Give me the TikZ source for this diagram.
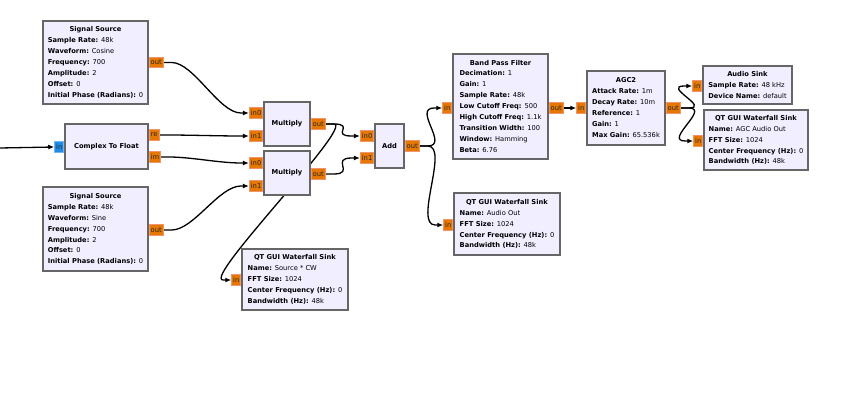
\documentclass[tikz,border=0pt]{standalone}
\usepackage{fontspec}
\setmainfont{DejaVu Sans}
\usetikzlibrary{arrows.meta}
\pgfdeclarelayer{bg}
\pgfsetlayers{bg,main}
\definecolor{blkfill}{RGB}{240,238,255}
\definecolor{blkline}{RGB}{102,102,102}
\definecolor{portfill}{RGB}{230,120,0}
\definecolor{portline}{RGB}{240,150,110}
\definecolor{cplxfill}{RGB}{30,140,230}
\definecolor{cplxline}{RGB}{120,180,240}
\newcommand{\ttl}[1]{\multicolumn{1}{@{}c@{}}{\textbf{#1}}}
\newcommand{\prm}[2]{\textbf{#1:} #2}
\tikzset{
  blk/.style={draw=blkline, fill=blkfill, line width=1.5pt, inner sep=0pt, font=\fontsize{6.7}{10.9}\selectfont},
  port/.style={draw=portline, fill=portfill, line width=0.8pt, minimum height=10.5pt, inner xsep=1.5pt, inner ysep=0pt, font=\fontsize{6.8}{7}\selectfont, text=black!85},
  cport/.style={port, draw=cplxline, fill=cplxfill},
  portin/.style={port, anchor=east},
  portout/.style={port, anchor=west},
  wire/.style={line width=1.3pt, -{Latex[length=6pt,width=5pt]},
    to path={-- ++(8,0) .. controls +(22,0) and ([xshift=-30pt]\tikztotarget) .. ([xshift=-8pt]\tikztotarget) -- (\tikztotarget) \tikztonodes}}
}
\begin{document}
\begin{tikzpicture}[x=1pt, y=-1pt]
\useasboundingbox (0,0) rectangle (856,417);

\node[blk, minimum width=105pt, minimum height=83pt] (ss1) at (95.5,62.5) {\begin{tabular}{@{}l@{}}\ttl{Signal Source}\\ \prm{Sample Rate}{48k}\\ \prm{Waveform}{Cosine}\\ \prm{Frequency}{700}\\ \prm{Amplitude}{2}\\ \prm{Offset}{0}\\ \prm{Initial Phase (Radians)}{0}\end{tabular}};
\node[blk, minimum width=83pt, minimum height=45pt] (c2f) at (106.5,146.5) {\textbf{Complex To Float}};
\node[blk, minimum width=105pt, minimum height=84pt] (ss2) at (95.5,229) {\begin{tabular}{@{}l@{}}\ttl{Signal Source}\\ \prm{Sample Rate}{48k}\\ \prm{Waveform}{Sine}\\ \prm{Frequency}{700}\\ \prm{Amplitude}{2}\\ \prm{Offset}{0}\\ \prm{Initial Phase (Radians)}{0}\end{tabular}};
\node[blk, minimum width=46pt, minimum height=44pt] (mul1) at (287,124) {\textbf{Multiply}};
\node[blk, minimum width=46pt, minimum height=44pt] (mul2) at (287,173) {\textbf{Multiply}};
\node[blk, minimum width=29pt, minimum height=44pt] (add) at (389.5,146) {\textbf{Add}};
\node[blk, minimum width=106pt, minimum height=61pt] (wf1) at (295,279.5) {\begin{tabular}{@{}l@{}}\ttl{QT GUI Waterfall Sink}\\ \prm{Name}{Source * CW}\\ \prm{FFT Size}{1024}\\ \prm{Center Frequency (Hz)}{0}\\ \prm{Bandwidth (Hz)}{48k}\end{tabular}};
\node[blk, minimum width=95pt, minimum height=105pt] (bpf) at (500.5,106.5) {\begin{tabular}{@{}l@{}}\ttl{Band Pass Filter}\\ \prm{Decimation}{1}\\ \prm{Gain}{1}\\ \prm{Sample Rate}{48k}\\ \prm{Low Cutoff Freq}{500}\\ \prm{High Cutoff Freq}{1.1k}\\ \prm{Transition Width}{100}\\ \prm{Window}{Hamming}\\ \prm{Beta}{6.76}\end{tabular}};
\node[blk, minimum width=78pt, minimum height=74pt] (agc) at (626,108) {\begin{tabular}{@{}l@{}}\ttl{AGC2}\\ \prm{Attack Rate}{1m}\\ \prm{Decay Rate}{10m}\\ \prm{Reference}{1}\\ \prm{Gain}{1}\\ \prm{Max Gain}{65.536k}\end{tabular}};
\node[blk, minimum width=106pt, minimum height=62pt] (wf2) at (507,224) {\begin{tabular}{@{}l@{}}\ttl{QT GUI Waterfall Sink}\\ \prm{Name}{Audio Out}\\ \prm{FFT Size}{1024}\\ \prm{Center Frequency (Hz)}{0}\\ \prm{Bandwidth (Hz)}{48k}\end{tabular}};
\node[blk, minimum width=89pt, minimum height=38pt] (asink) at (747.5,85) {\begin{tabular}{@{}l@{}}\ttl{Audio Sink}\\ \prm{Sample Rate}{48 kHz}\\ \prm{Device Name}{default}\end{tabular}};
\node[blk, minimum width=104pt, minimum height=60pt] (wf3) at (756,140) {\begin{tabular}{@{}l@{}}\ttl{QT GUI Waterfall Sink}\\ \prm{Name}{AGC Audio Out}\\ \prm{FFT Size}{1024}\\ \prm{Center Frequency (Hz)}{0}\\ \prm{Bandwidth (Hz)}{48k}\end{tabular}};

\node[portout] (ss1out) at (ss1.east |- 0,62.5) {out};
\node[cport, anchor=east] (c2fin) at (c2f.west |- 0,147) {in};
\node[portout] (c2fre) at (c2f.east |- 0,135) {re};
\node[portout] (c2fim) at (c2f.east |- 0,157) {im};
\node[portout] (ss2out) at (ss2.east |- 0,230) {out};
\node[portin] (m1in0) at (mul1.west |- 0,113) {in0};
\node[portin] (m1in1) at (mul1.west |- 0,136) {in1};
\node[portout] (m1out) at (mul1.east |- 0,124) {out};
\node[portin] (m2in0) at (mul2.west |- 0,163) {in0};
\node[portin] (m2in1) at (mul2.west |- 0,186) {in1};
\node[portout] (m2out) at (mul2.east |- 0,174) {out};
\node[portin] (addin0) at (add.west |- 0,136) {in0};
\node[portin] (addin1) at (add.west |- 0,158) {in1};
\node[portout] (addout) at (add.east |- 0,146) {out};
\node[portin] (wf1in) at (wf1.west |- 0,280) {in};
\node[portin] (bpfin) at (bpf.west |- 0,108) {in};
\node[portout] (bpfout) at (bpf.east |- 0,108) {out};
\node[portin] (agcin) at (agc.west |- 0,108) {in};
\node[portout] (agcout) at (agc.east |- 0,108) {out};
\node[portin] (wf2in) at (wf2.west |- 0,225) {in};
\node[portin] (asin) at (asink.west |- 0,86) {in};
\node[portin] (wf3in) at (wf3.west |- 0,141) {in};
\coordinate (ext) at (0,148);

\begin{pgfonlayer}{bg}
\draw[wire] (ext) -- (c2fin.west);
\draw[wire] (ss1out.east) to (m1in0.west);
\draw[wire] (c2fre.east) to (m1in1.west);
\draw[wire] (c2fim.east) to (m2in0.west);
\draw[wire] (ss2out.east) to (m2in1.west);
\draw[wire] (m1out.east) to (addin0.west);
\draw[wire] (m1out.east) to (wf1in.west);
\draw[wire] (m2out.east) to (addin1.west);
\draw[wire] (addout.east) to (bpfin.west);
\draw[wire] (addout.east) to (wf2in.west);
\draw[wire] (bpfout.east) -- (agcin.west);
\draw[wire] (agcout.east) to (asin.west);
\draw[wire] (agcout.east) to (wf3in.west);
\end{pgfonlayer}
\end{tikzpicture}
\end{document}
